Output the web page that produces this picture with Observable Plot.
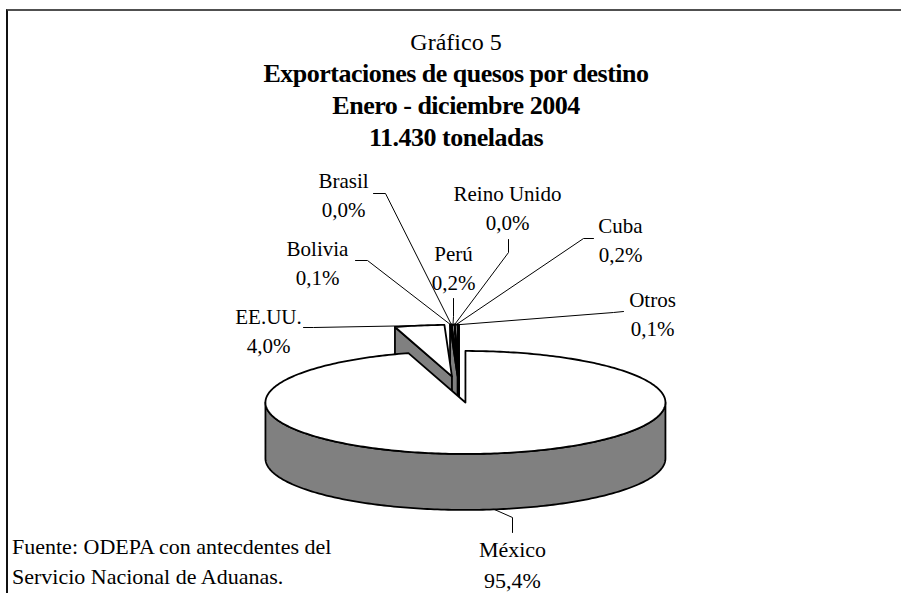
<!DOCTYPE html>
<html>
<head>
<meta charset="utf-8">
<script src="https://cdn.jsdelivr.net/npm/d3@7"></script>
<script src="https://cdn.jsdelivr.net/npm/@observablehq/plot@0.6"></script>
<style>
  body { margin: 0; background: #fff; }
  #page { position: relative; width: 901px; height: 593px; overflow: hidden; background: #fff; font-family: "Liberation Serif", "Times New Roman", serif; color: #000; }
  #frame { position: absolute; left: 6px; top: 9px; width: 1000px; height: 700px; border-top: 2px solid #505050; border-left: 2px solid #111; }
  #title { position: absolute; left: 8px; top: 26px; width: 896px; text-align: center; font-size: 24px; line-height: 32px; }
  #title .b { font-weight: bold; font-size: 26px; letter-spacing: -0.5px; }
  #chart { position: absolute; left: 0; top: 160px; }
  #caption { position: absolute; left: 12px; top: 532px; font-size: 22px; line-height: 30px; }
</style>
</head>
<body>
<div id="page">
  <div id="frame"></div>
  <div id="title">
    <div>Gráfico 5</div>
    <div class="b">Exportaciones de quesos por destino</div>
    <div class="b">Enero - diciembre 2004</div>
    <div class="b">11.430 toneladas</div>
  </div>
  <div id="chart"></div>
  <div id="caption">Fuente: ODEPA con antecdentes del<br>Servicio Nacional de Aduanas.</div>
</div>
<script>
// ---- data ----
const destinos = ["México", "EE.UU.", "Bolivia", "Brasil", "Perú", "Reino Unido", "Cuba", "Otros"];
const participacion = [95.4, 4.0, 0.1, 0.0, 0.2, 0.0, 0.2, 0.1];

// ---- label layout (label block centre and leader elbow points) ----
const labelLayout = {
  "México":      {x: 512, y: 562, elbow: [[512, 532], [512, 517]]},
  "EE.UU.":      {x: 268, y: 329, elbow: [[303, 327], [313, 327]]},
  "Bolivia":     {x: 317, y: 261, elbow: [[355, 260], [367, 260]]},
  "Brasil":      {x: 343, y: 193, elbow: [[373, 193], [385, 193]]},
  "Perú":        {x: 453, y: 266, elbow: [[453, 298], [453, 316]]},
  "Reino Unido": {x: 507, y: 206, elbow: [[508, 239], [508, 252]]},
  "Cuba":        {x: 620, y: 238, elbow: [[593, 238], [583, 238]]},
  "Otros":       {x: 652, y: 312, elbow: [[623, 311], [613, 312]]}
};

// ---- 3D pie geometry ----
const C0 = {x: 458.6, y: 388.9};
const rx = 200, ry = 51.5, depth = 56, explode = 44, explodeK = 0.30;
const wallFill = "#808080", topFill = "#ffffff";

const arcs = d3.pie().sort(null).startAngle(0).endAngle(2 * Math.PI)(participacion);
const pt = (c, t, dz) => ({x: c.x + rx * Math.sin(t), y: c.y - ry * Math.cos(t) + dz});
function arcPts(c, a, b, dz) {
  const n = Math.max(1, Math.ceil(Math.abs(b - a) / (Math.PI / 180)));
  return d3.range(n + 1).map(i => pt(c, a + (b - a) * i / n, dz));
}

const slices = arcs.map((a, i) => {
  const m = (a.startAngle + a.endAngle) / 2;
  const c = {x: C0.x + explode * Math.sin(m), y: C0.y - explode * explodeK * Math.cos(m)};
  return {name: destinos[i], value: participacion[i], a0: a.startAngle, a1: a.endAngle, m, c};
});

const polys = [];
const drawOrder = slices.slice().sort((p, q) => p.c.y - q.c.y);
for (const s of drawOrder) {
  const {c, a0, a1} = s;
  const cb = {x: c.x, y: c.y + depth};
  // outer wall (front half: angles between 90° and 270°)
  const lo = Math.max(a0, Math.PI / 2), hi = Math.min(a1, 3 * Math.PI / 2);
  if (hi > lo) {
    const top = arcPts(c, lo, hi, 0), bot = arcPts(c, lo, hi, depth).reverse();
    polys.push({pts: [...top, ...bot, top[0]], fill: wallFill});
  }
  // radial walls
  if (Math.sin(a0) < 0) {
    const o = pt(c, a0, 0), ob = pt(c, a0, depth);
    polys.push({pts: [o, c, cb, ob, o], fill: wallFill});
  }
  if (Math.sin(a1) > 0) {
    const o = pt(c, a1, 0), ob = pt(c, a1, depth);
    polys.push({pts: [o, c, cb, ob, o], fill: wallFill});
  }
  // top face
  polys.push({pts: [c, ...arcPts(c, a0, a1, 0), c], fill: topFill});
}

const fmt = v => d3.format(".1f")(v).replace(".", ",") + "%";
const labels = slices.map(s => ({
  name: s.name, text: s.name + "\n" + fmt(s.value),
  x: labelLayout[s.name].x, y: labelLayout[s.name].y,
  big: s.name === "México"
}));
const leaders = slices.flatMap(s => {
  const front = s.m > Math.PI / 2 && s.m < 3 * Math.PI / 2;
  const anchor = pt(s.c, s.m, front ? depth : 0);
  return [...labelLayout[s.name].elbow.map(([x, y]) => ({x, y})), anchor].map(p => ({...p, name: s.name}));
});

const chart = Plot.plot({
  width: 901,
  height: 433,
  margin: 0,
  x: {domain: [0, 901], range: [0, 901], axis: null},
  y: {domain: [160, 593], range: [0, 433], axis: null},
  style: {fontFamily: "'Liberation Serif', 'Times New Roman', serif", background: "transparent", overflow: "visible"},
  marks: [
    ...polys.map(p => Plot.line(p.pts, {x: "x", y: "y", fill: p.fill, stroke: "#000", strokeWidth: 1.8, strokeLinejoin: "round", curve: "linear"})),
    Plot.line(leaders, {x: "x", y: "y", z: "name", stroke: "#000", strokeWidth: 1, curve: "linear"}),
    Plot.text(labels.filter(d => !d.big), {x: "x", y: "y", text: "text", fontSize: 21, lineHeight: 1.38, fill: "#000", textAnchor: "middle"}),
    Plot.text(labels.filter(d => d.big), {x: "x", y: "y", text: "text", fontSize: 22, lineHeight: 1.4, fill: "#000", textAnchor: "middle"})
  ]
});
document.getElementById("chart").appendChild(chart);
</script>
</body>
</html>
